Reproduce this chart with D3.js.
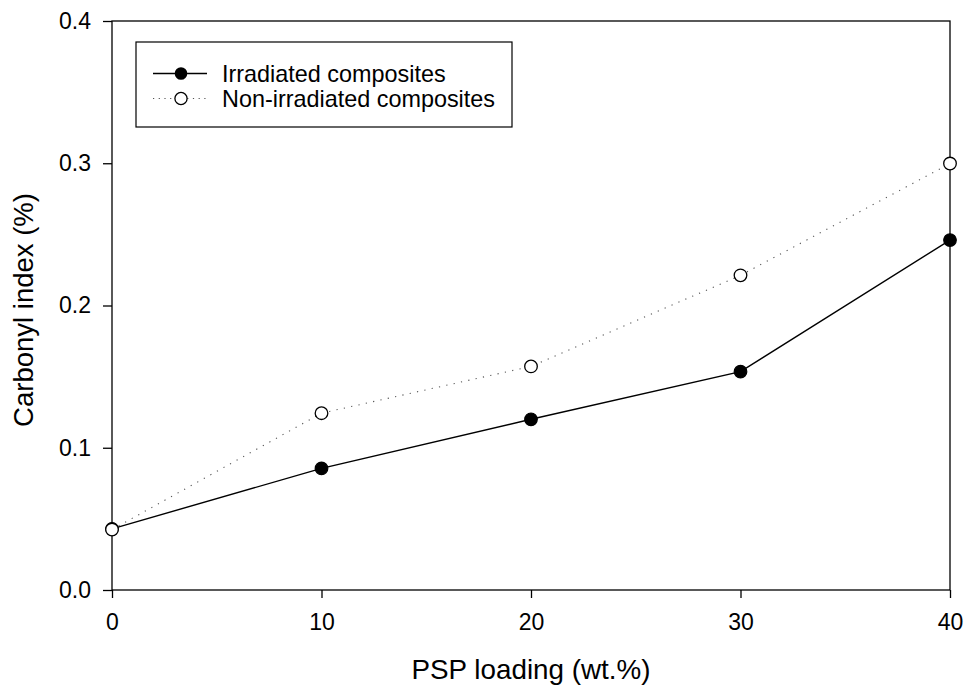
<!DOCTYPE html>
<html><head><meta charset="utf-8">
<script src="https://cdn.jsdelivr.net/npm/d3@7"></script>
<style>
body{margin:0;background:#fff;}
text{font-family:"Liberation Sans",Arial,sans-serif;fill:#000;}
</style></head>
<body><svg id="c" width="965" height="685"></svg>
<script>
const xValues = [0, 10, 20, 30, 40];
const irradiated = [0.043, 0.0855, 0.120, 0.1535, 0.246];
const nonIrradiated = [0.0425, 0.1243, 0.1572, 0.2212, 0.2998];
const xTicks = [0, 10, 20, 30, 40];
const yTicks = [0.0, 0.1, 0.2, 0.3, 0.4];
const seriesNames = ["Irradiated composites", "Non-irradiated composites"];
const xTitle = "PSP loading (wt.%)";
const yTitle = "Carbonyl index (%)";

const svg = d3.select("#c");
svg.append("rect").attr("width",965).attr("height",685).attr("fill","#fff");
const L=112, R=950, T=21, B=590;
const x = d3.scaleLinear().domain([0,40]).range([L,R]);
const y = d3.scaleLinear().domain([0,0.4]).range([B,T]);

// frame
svg.append("rect").attr("x",L).attr("y",T).attr("width",R-L).attr("height",B-T)
  .attr("fill","none").attr("stroke","#000").attr("stroke-width",1.3);

const ya = svg.append("g").attr("transform",`translate(${L},0)`)
  .call(d3.axisLeft(y).tickValues(yTicks).tickFormat(d3.format(".1f")).tickSize(9).tickSizeOuter(0).tickPadding(12));
const xa = svg.append("g").attr("transform",`translate(0,${B})`)
  .call(d3.axisBottom(x).tickValues(xTicks).tickSize(8).tickSizeOuter(0));
[ya,xa].forEach(g=>{
  g.select(".domain").remove();
  g.selectAll("line").attr("stroke","#000").attr("stroke-width",1.3);
  g.selectAll("text").style("font-size","23px").style("font-family",'"Liberation Sans",Arial,sans-serif');
});
xa.selectAll("text").attr("y",40).attr("dy",0);

// titles
svg.append("text").attr("x",531).attr("y",679).attr("text-anchor","middle")
  .style("font-size","27.8px").text(xTitle);
svg.append("text").attr("transform","translate(33,310) rotate(-90)").attr("text-anchor","middle")
  .style("font-size","27.5px").text(yTitle);

const line = d3.line().x((d,i)=>x(xValues[i])).y(d=>y(d));
// irradiated
svg.append("path").datum(irradiated).attr("d",line).attr("fill","none")
  .attr("stroke","#000").attr("stroke-width",1.4);
svg.append("g").selectAll("circle").data(irradiated).join("circle")
  .attr("cx",(d,i)=>x(xValues[i])).attr("cy",d=>y(d)).attr("r",6.3)
  .attr("fill","#000").attr("stroke","#000").attr("stroke-width",1.2);
// non-irradiated
svg.append("path").datum(nonIrradiated).attr("d",line).attr("fill","none")
  .attr("stroke","#555").attr("stroke-width",1.1).attr("stroke-dasharray","1.2,6.3");
svg.append("g").selectAll("circle").data(nonIrradiated).join("circle")
  .attr("cx",(d,i)=>x(xValues[i])).attr("cy",d=>y(d)).attr("r",6.3)
  .attr("fill","#fff").attr("stroke","#000").attr("stroke-width",1.3);

// legend
const lg = svg.append("g");
lg.append("rect").attr("x",136).attr("y",42).attr("width",376).attr("height",85)
  .attr("fill","#fff").attr("stroke","#000").attr("stroke-width",1.2);
const rows=[73.5,98.5];
lg.append("line").attr("x1",153).attr("x2",207).attr("y1",rows[0]).attr("y2",rows[0])
  .attr("stroke","#000").attr("stroke-width",1.4);
lg.append("circle").attr("cx",181).attr("cy",rows[0]).attr("r",6.3).attr("fill","#000");
lg.append("line").attr("x1",153).attr("x2",207).attr("y1",rows[1]).attr("y2",rows[1])
  .attr("stroke","#555").attr("stroke-width",1.1).attr("stroke-dasharray","1.2,4.5");
lg.append("circle").attr("cx",181).attr("cy",rows[1]).attr("r",6.1).attr("fill","#fff")
  .attr("stroke","#000").attr("stroke-width",1.3);
seriesNames.forEach((s,i)=>{
  lg.append("text").attr("x",222).attr("y",rows[i]).attr("dy","0.35em")
    .style("font-size","23.4px").text(s);
});
</script></body></html>
